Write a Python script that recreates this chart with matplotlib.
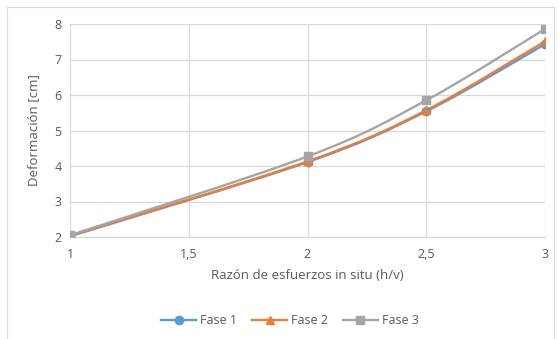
import matplotlib
matplotlib.use('Agg')
import matplotlib.pyplot as plt
from matplotlib.path import Path
from matplotlib.patches import PathPatch, Rectangle
from matplotlib.lines import Line2D
import numpy as np

## Data
razon = [1, 2, 2.5, 3]
fase1 = [2.02, 4.11, 5.54, 7.43]
fase2 = [2.03, 4.13, 5.57, 7.51]
fase3 = [2.05, 4.27, 5.85, 7.86]
series_names = ['Fase 1', 'Fase 2', 'Fase 3']
colors = ['#5B9BD5', '#ED7D31', '#A5A5A5']
markers = ['o', '^', 's']
xticks = [1, 1.5, 2, 2.5, 3]
xticklabels = ['1', '1,5', '2', '2,5', '3']

plt.rcParams['font.family'] = ['Open Sans', 'DejaVu Sans']
txt = '#595959'


def smooth_path(x, y):
    # Catmull-Rom style cubic Bezier through the points
    pts = np.column_stack([x, y]).astype(float)
    n = len(pts)
    verts = [pts[0]]
    codes = [Path.MOVETO]
    for i in range(n - 1):
        p0 = pts[max(i - 1, 0)]
        p1 = pts[i]
        p2 = pts[i + 1]
        p3 = pts[min(i + 2, n - 1)]
        c1 = p1 + (p2 - p0) / 6.0
        c2 = p2 - (p3 - p1) / 6.0
        verts += [c1, c2, p2]
        codes += [Path.CURVE4] * 3
    return Path(verts, codes)


fig = plt.figure(figsize=(5.59, 3.39), dpi=100)
fig.patches.append(Rectangle((7 / 559, -0.02), 547 / 559, 1 - 7 / 339 + 0.02,
                             transform=fig.transFigure, fill=False,
                             edgecolor='#D9D9D9', linewidth=0.8))
ax = fig.add_axes([70 / 559, 102 / 339, 475 / 559, 213 / 339])

for ys, name, col, mk in zip([fase1, fase2, fase3], series_names, colors, markers):
    ax.add_patch(PathPatch(smooth_path(razon, ys), facecolor='none',
                           edgecolor=col, linewidth=1.7, zorder=3,
                           capstyle='round'))
    ax.plot(razon, ys, linestyle='none', marker=mk, color=col,
            markersize=6, zorder=4)

ax.set_xlim(1, 3)
ax.set_ylim(2, 8)
ax.set_xticks(xticks)
ax.set_xticklabels(xticklabels)
ax.set_yticks(range(2, 9))
ax.grid(True, color='#D9D9D9', linewidth=0.9)
ax.set_axisbelow(True)
for s in ['top', 'right', 'left']:
    ax.spines[s].set_visible(False)
ax.spines['bottom'].set_color('#D9D9D9')
ax.spines['bottom'].set_linewidth(0.9)
ax.tick_params(length=0, colors=txt, labelsize=9, pad=8)
ax.tick_params(axis='y', pad=6)

ax.set_xlabel('Razón de esfuerzos in situ (h/v)', color=txt, fontsize=9.5, labelpad=6)
ax.set_ylabel('Deformación [cm]', color=txt, fontsize=9.5, labelpad=10)

handles = [Line2D([0], [0], color=c, marker=m, markersize=6, linewidth=1.7)
           for c, m in zip(colors, markers)]
fig.legend(handles, series_names, loc='center', bbox_to_anchor=(290 / 559, 1 - 321 / 339),
           ncol=3, frameon=False, fontsize=9, labelcolor=txt,
           handlelength=2.8, columnspacing=1.2, handletextpad=0.3)

plt.savefig('out.png', dpi=100)
